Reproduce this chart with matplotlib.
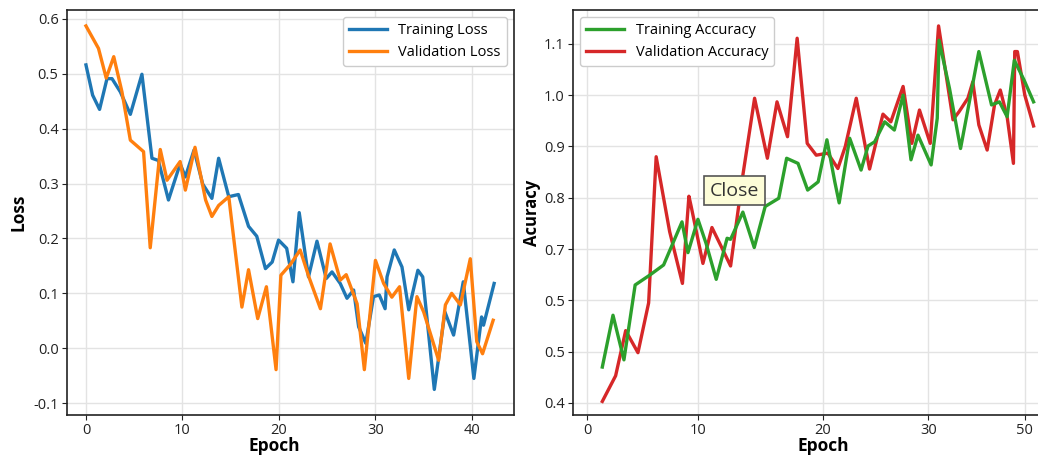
import matplotlib
matplotlib.use("Agg")
import matplotlib.pyplot as plt

plt.rcParams['font.family'] = ['Open Sans', 'DejaVu Sans']
plt.rcParams['axes.unicode_minus'] = False

# Loss curves (epoch, value)
train_loss_x = [0, 0.69, 1.41, 2.18, 2.7, 3.56, 4.6, 5.8, 6.84, 7.5, 8.55, 9.76, 10.3, 11.2,
                12.1, 13.05, 13.75, 14.8, 15.8, 16.85, 17.7, 18.6, 19.3, 19.96, 20.8, 21.45,
                22.1, 23.06, 23.94, 24.9, 25.5, 26.35, 27.05, 27.74, 28.26, 29.0, 29.8, 30.4,
                31.0, 31.2, 31.95, 32.75, 33.45, 34.4, 34.9, 36.1, 37.2, 38.1, 39.1, 40.2,
                41.0, 41.2, 42.3]
train_loss = [0.516, 0.461, 0.435, 0.491, 0.491, 0.467, 0.426, 0.499, 0.346, 0.342, 0.27,
              0.336, 0.312, 0.361, 0.299, 0.273, 0.346, 0.276, 0.28, 0.222, 0.204, 0.145,
              0.157, 0.197, 0.182, 0.121, 0.247, 0.13, 0.195, 0.127, 0.139, 0.118, 0.091,
              0.106, 0.039, 0.009, 0.094, 0.097, 0.072, 0.13, 0.179, 0.148, 0.07, 0.142,
              0.13, -0.075, 0.066, 0.024, 0.121, -0.055, 0.057, 0.042, 0.118]

val_loss_x = [0, 1.3, 2.1, 2.88, 3.73, 4.6, 5.97, 6.66, 7.7, 8.4, 9.76, 10.3, 11.3, 12.4,
              13.05, 13.75, 14.8, 16.16, 16.85, 17.8, 18.7, 19.7, 20.2, 21.2, 22.2, 23.1,
              24.3, 25.3, 26.35, 26.97, 28.1, 28.85, 30.0, 30.85, 31.7, 32.5, 33.45, 34.3,
              35.0, 36.55, 37.25, 37.9, 38.8, 39.83, 40.5, 41.1, 42.2]
val_loss = [0.587, 0.546, 0.492, 0.531, 0.467, 0.379, 0.358, 0.183, 0.362, 0.306, 0.34,
            0.288, 0.366, 0.27, 0.24, 0.26, 0.276, 0.075, 0.143, 0.054, 0.112, -0.039,
            0.133, 0.153, 0.179, 0.13, 0.072, 0.19, 0.124, 0.134, 0.081, -0.039, 0.16,
            0.118, 0.093, 0.112, -0.055, 0.094, 0.066, -0.022, 0.079, 0.1, 0.079, 0.163,
            0.012, -0.01, 0.051]

# Accuracy curves (epoch, value)
train_acc_x = [1.75, 2.97, 4.22, 5.5, 7.15, 8.75, 9.8, 10.85, 11.53, 12.67, 13.6, 14.76,
               16.0, 16.4, 17.8, 19.1, 20.35, 21.9, 22.8, 24.1, 25.2, 26.4, 27.4, 28.3,
               28.8, 30.0, 31.3, 32.1, 32.85, 34.0, 35.1, 36.1, 37.0, 37.8, 39.3, 40.0,
               40.2, 41.4, 42.66, 44.75, 46.2, 47.1, 47.98, 48.8, 49.9, 51.0]
train_acc = [0.47, 0.571, 0.484, 0.63, 0.649, 0.669, 0.711, 0.753, 0.693, 0.758, 0.711,
             0.641, 0.721, 0.719, 0.772, 0.703, 0.783, 0.799, 0.877, 0.867, 0.815, 0.831,
             0.913, 0.831, 0.79, 0.916, 0.854, 0.901, 0.909, 0.948, 0.932, 1.0, 0.874,
             0.922, 0.864, 0.955, 1.107, 1.013, 0.896, 1.085, 0.981, 0.987, 0.958, 1.068,
             1.03, 0.987]

val_acc_x = [1.75, 3.27, 4.42, 5.82, 7.04, 7.9, 9.44, 10.9, 11.64, 11.9, 13.24, 14.27,
             15.33, 16.4, 17.8, 19.14, 20.6, 21.7, 22.9, 24.0, 25.15, 26.18, 27.5, 28.65,
             29.5, 30.75, 32.27, 33.8, 34.7, 36.1, 37.1, 37.97, 39.2, 40.15, 41.8, 42.5,
             43.5, 44.06, 44.75, 45.7, 46.54, 47.2, 47.98, 48.7, 48.85, 49.15, 50.0, 51.0]
val_acc = [0.403, 0.453, 0.541, 0.498, 0.595, 0.88, 0.734, 0.633, 0.803, 0.783, 0.672,
           0.742, 0.705, 0.667, 0.844, 0.994, 0.877, 0.987, 0.919, 1.111, 0.906, 0.883,
           0.887, 0.857, 0.9, 0.994, 0.856, 0.963, 0.948, 1.017, 0.906, 0.971, 0.906,
           1.135, 0.952, 0.968, 0.994, 1.026, 0.942, 0.893, 0.981, 1.01, 0.958, 0.867,
           1.085, 1.085, 1.0, 0.94]

acc_xtick_pos = [0, 12.67, 26.9, 39.0, 50.0]
acc_xtick_labels = ['0', '10', '20', '30', '50']
acc_ytick_pos = [0.4, 0.5, 0.6, 0.7, 0.8, 0.9, 1.0, 1.1]
acc_ytick_labels = ['0.4', '0.5', '0.5', '0.7', '0.8', '0.9', '1.0', '1.1']

fig = plt.figure(figsize=(10.38, 4.55), dpi=100)
ax1 = fig.add_axes([0.0645, 0.088, 0.4306, 0.890])
ax2 = fig.add_axes([0.552, 0.088, 0.4547, 0.890])

lw = 2.4
ax1.plot(train_loss_x, train_loss, color='#1f77b4', lw=lw, label='Training Loss')
ax1.plot(val_loss_x, val_loss, color='#ff7f0e', lw=lw, label='Validation Loss')
ax1.set_xlim(-1.97, 44.35)
ax1.set_ylim(-0.1215, 0.616)
ax1.set_xticks([0, 10, 20, 30, 40])
ax1.set_yticks([-0.1, 0.0, 0.1, 0.2, 0.3, 0.4, 0.5, 0.6])
ax1.set_ylabel('Loss', fontsize=12.5, fontweight='bold', labelpad=4)
ax1.set_xlabel('Epoch', fontsize=12.5, fontweight='bold')
ax1.xaxis.set_label_coords(0.465, -0.054)
ax1.legend(loc='upper right', fontsize=10.5, handlelength=2.6, framealpha=1,
           edgecolor='#cccccc', borderaxespad=0.5)

ax2.plot(val_acc_x, val_acc, color='#d62728', lw=lw, label='Validation Accuracy')
ax2.plot(train_acc_x, train_acc, color='#2ca02c', lw=lw, label='Training Accuracy')
ax2.set_xlim(-1.6, 52.3)
ax2.set_ylim(0.3766, 1.166)
ax2.set_xticks(acc_xtick_pos)
ax2.set_xticklabels(acc_xtick_labels)
ax2.set_yticks(acc_ytick_pos)
ax2.set_yticklabels(acc_ytick_labels)
ax2.set_ylabel('Acuracy', fontsize=12, fontweight='bold', labelpad=2)
ax2.set_xlabel('Epoch', fontsize=12.5, fontweight='bold')
ax2.xaxis.set_label_coords(0.53, -0.054)
h, l = ax2.get_legend_handles_labels()
ax2.legend(h[::-1], l[::-1], loc='upper left', fontsize=10.5, handlelength=2.6,
           framealpha=1, edgecolor='#cccccc', borderaxespad=0.5)

ax2.text(16.84, 0.814, 'Close', fontsize=14, color='#333333', ha='center', va='center',
         bbox=dict(boxstyle='square,pad=0.3', facecolor='#fdfdd8', edgecolor='#555555',
                   lw=1.2))

for ax in (ax1, ax2):
    ax.grid(True, color='#e3e3e3', lw=1)
    ax.set_axisbelow(True)
    ax.tick_params(labelsize=10.5, colors='#222222', pad=2.5)
    for s in ax.spines.values():
        s.set_color('#222222')
        s.set_linewidth(1.2)

fig.savefig('out.png', dpi=100)
